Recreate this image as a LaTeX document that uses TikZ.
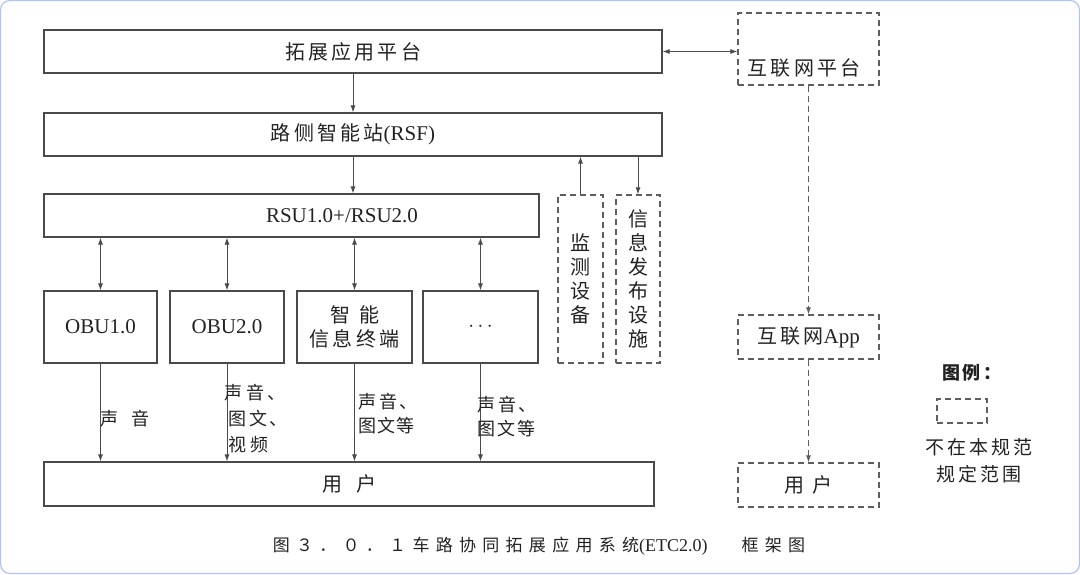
\documentclass[tikz,border=0pt]{standalone}
\usepackage{fontspec}
\setmainfont{Liberation Serif}
\newfontfamily\cjk{Noto Sans CJK SC}[LetterSpace=16]
\newfontfamily\cjkcap{Noto Sans CJK SC}[LetterSpace=37]
\usetikzlibrary{positioning,arrows.meta}
\definecolor{cLine}{HTML}{4A4A4A}
\definecolor{cDash}{HTML}{5E5E5E}
\definecolor{cText}{HTML}{222222}
\definecolor{cFrame}{HTML}{AFC4F4}
\tikzset{
  box/.style={draw=cLine,line width=1.2pt,inner sep=0pt,text=cText,align=center,font=\cjk\fontsize{20}{24}\selectfont},
  dbox/.style={box,draw=cDash,dash pattern=on 6pt off 4pt},
  txt/.style={inner sep=0pt,text=cText,align=center,font=\fontsize{21}{24}\selectfont},
  lab/.style={inner sep=0pt,text=cText,align=left,anchor=west,font=\cjk\fontsize{18}{24}\selectfont},
  arr/.style={-{Latex[length=7pt,width=5pt]},line width=0.9pt,draw=cLine},
  barr/.style={{Latex[length=7pt,width=5pt]}-{Latex[length=7pt,width=5pt]},line width=0.9pt,draw=cLine},
  dashedarr/.style={arr,draw=cDash,dash pattern=on 6pt off 4pt},
  frame/.style={draw=cFrame,line width=1.2pt,rounded corners=9pt}}
\begin{document}
\begin{tikzpicture}[x=1pt,y=1pt]
\useasboundingbox (0,0) rectangle (1080,-574);
\draw[frame] (0.6,-0.6) rectangle (1079.4,-573.4);

% platform layers
\node[box,minimum width=618,minimum height=43] (plat) at (353,-51.5) {拓展应用平台};
\node[box,minimum width=618,minimum height=43] (rsf) at (353,-134.5) {路侧智能站{\rmfamily\fontsize{21}{24}\selectfont(RSF)}};
\node[box,minimum width=495,minimum height=43] (rsu) at (291.5,-215.5) {};
\node[txt] (rsutext) at (342,-216) {RSU1.0+/RSU2.0};

% side devices, not in scope
\node[dbox,minimum width=45,minimum height=168] (mon) at (580.5,-279) {监\\测\\设\\备};
\node[dbox,minimum width=44,minimum height=168] (info) at (638,-279) {信\\息\\发\\布\\设\\施};

% terminals
\node[box,minimum width=113,minimum height=72] (obu1) at (100.5,-327) {\rmfamily\fontsize{21}{24}\selectfont OBU1.0};
\node[box,minimum width=114,minimum height=72] (obu2) at (227,-327) {\rmfamily\fontsize{21}{24}\selectfont OBU2.0};
\node[box,minimum width=115,minimum height=72] (term) at (354.5,-327) {智\hspace{9pt}能\\信息终端};
\node[box,minimum width=115,minimum height=72] (more) at (480.5,-327) {$\cdots$};
\node[box,minimum width=610,minimum height=44] (user) at (349,-484) {用\hspace{14pt}户};

% internet side
\node[dbox,minimum width=141,minimum height=72] (inet) at (808.5,-49) {};
\node[box,draw=none] (inettext) at (804,-68) {互联网平台};
\node[dbox,minimum width=141,minimum height=44] (app) at (808.5,-337) {互联网{\rmfamily\fontsize{21}{24}\selectfont App}};
\node[dbox,minimum width=141,minimum height=44] (userR) at (808.5,-485) {用\hspace{8pt}户};

% legend
\node[box,draw=none,font=\cjk\bfseries\fontsize{18}{20}\selectfont] (legtitle) at (972,-373) {图例：};
\node[dbox,minimum width=50,minimum height=24] (legbox) at (962,-411) {};
\node[box,draw=none,font=\cjk\fontsize{19}{27}\selectfont] (legtext) at (979,-460.5) {不在本规范\\规定范围};

% connectors
\draw[arr] (plat) -- (rsf);
\draw[arr] (rsf.south) -- (rsf.south |- rsu.north);
\draw[barr] (plat.east) -- (plat.east -| inet.west);
\draw[arr] (mon.north) -- (mon.north |- rsf.south);
\draw[arr] (info.north |- rsf.south) -- (info.north);
\draw[dashedarr] (inet) -- (app);
\draw[dashedarr] (app) -- (userR);
\foreach \t in {obu1,obu2,term,more}{
  \draw[barr] (\t.north |- rsu.south) -- (\t.north);
  \draw[arr] (\t.south) -- (\t.south |- user.north);
}

% media labels
\node[lab] (lab1) at (100,-419) {声\hspace{13pt}音};
\node[lab,font=\cjk\fontsize{18}{26}\selectfont] (lab2) at (224,-419) {声\hspace{4pt}音、\\\hspace{4pt}图文、\\\hspace{4pt}视\hspace{4pt}频};
\node[lab] (lab3) at (358,-414) {声音、\\图\hspace{1pt}文\hspace{1pt}等};
\node[lab] (lab4) at (477,-417) {声音、\\图\hspace{2pt}文\hspace{2pt}等};

% caption
\node[txt] (cap) at (539,-546) {{\cjkcap\fontsize{17}{20}\selectfont 图３．０．１车路协同拓展应用系统}{\fontsize{18}{20}\selectfont(ETC2.0)}\hspace{34pt}{\cjkcap\fontsize{17}{20}\selectfont 框架图}};
\end{tikzpicture}
\end{document}
